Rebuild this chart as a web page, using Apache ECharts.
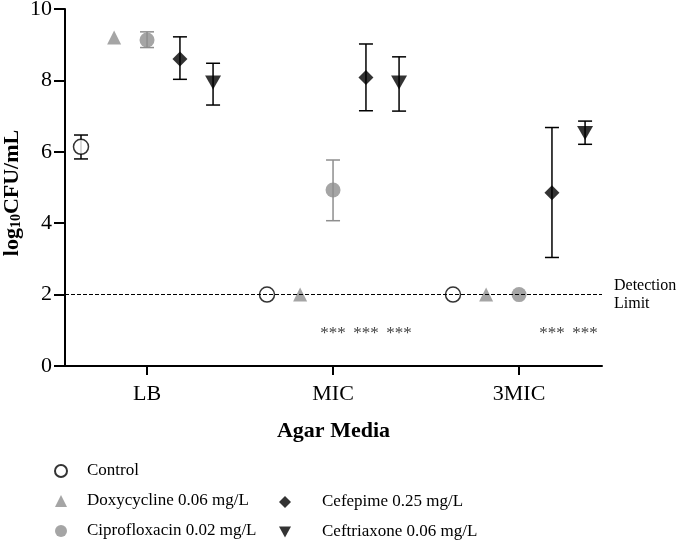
<!DOCTYPE html>
<html>
<head>
<meta charset="utf-8">
<script src="https://cdn.jsdelivr.net/npm/echarts@6/dist/echarts.min.js"></script>
<style>
  html, body { margin: 0; padding: 0; background: #fff; }
  #chart { width: 680px; height: 542px; }
</style>
</head>
<body>
<div id="chart"></div>
<script>
'use strict';

// categories on the x axis
const categories = ['LB', 'MIC', '3MIC'];
const yTicks = [0, 2, 4, 6, 8, 10];
const detectionLimit = 2;

// means and error bar ends, one value per category (null = no bar)
const controlMean = [6.14, 2, 2];
const controlLow = [5.80, null, null];
const controlHigh = [6.47, null, null];

const doxyMean = [9.20, 2, 2];
const doxyLow = [null, null, null];
const doxyHigh = [null, null, null];

const ciproMean = [9.13, 4.93, 2];
const ciproLow = [8.92, 4.07, null];
const ciproHigh = [9.36, 5.77, null];

const cefepimeMean = [8.60, 8.08, 4.85];
const cefepimeLow = [8.03, 7.15, 3.04];
const cefepimeHigh = [9.22, 9.02, 6.68];

const ceftriaxoneMean = [7.94, 7.94, 6.53];
const ceftriaxoneLow = [7.31, 7.14, 6.21];
const ceftriaxoneHigh = [8.48, 8.66, 6.86];

// significance marks per category
const ciproSig = ['', '***', ''];
const cefepimeSig = ['', '***', '***'];
const ceftriaxoneSig = ['', '***', '***'];

const FONT = '"Liberation Serif", "DejaVu Serif", serif';
const GRAY = '#8e8e8e';
const DOWN_TRIANGLE = 'path://M0,0 L10,0 L5,9 Z';

const groups = [
    {
        name: 'Control', mean: controlMean, low: controlLow, high: controlHigh, sig: null,
        offset: -0.355, symbol: 'circle', size: 15, rotate: 0,
        itemStyle: { color: '#fff', borderColor: '#000', borderWidth: 1.5 }, barColor: '#000'
    },
    {
        name: 'Doxycycline 0.06 mg/L', mean: doxyMean, low: doxyLow, high: doxyHigh, sig: null,
        offset: -0.177, symbol: 'triangle', size: 14, rotate: 0,
        itemStyle: { color: GRAY }, barColor: GRAY
    },
    {
        name: 'Ciprofloxacin 0.02 mg/L', mean: ciproMean, low: ciproLow, high: ciproHigh, sig: ciproSig,
        offset: 0, symbol: 'circle', size: 15, rotate: 0,
        itemStyle: { color: GRAY }, barColor: GRAY
    },
    {
        name: 'Cefepime 0.25 mg/L', mean: cefepimeMean, low: cefepimeLow, high: cefepimeHigh, sig: cefepimeSig,
        offset: 0.177, symbol: 'diamond', size: [15, 15], rotate: 0,
        itemStyle: { color: '#000' }, barColor: '#000'
    },
    {
        name: 'Ceftriaxone 0.06 mg/L', mean: ceftriaxoneMean, low: ceftriaxoneLow, high: ceftriaxoneHigh, sig: ceftriaxoneSig,
        offset: 0.355, symbol: DOWN_TRIANGLE, size: [16, 14], rotate: 0,
        itemStyle: { color: '#000' }, barColor: '#000'
    }
];

const series = [];

// error bars (drawn under the markers)
groups.forEach(g => {
    const data = [];
    categories.forEach((c, i) => {
        if (g.low[i] != null) data.push([i + g.offset, g.low[i], g.high[i]]);
    });
    series.push({
        type: 'custom',
        name: g.name + ' err',
        z: 1,
        silent: true,
        data: data,
        renderItem: (params, api) => {
            const lo = api.coord([api.value(0), api.value(1)]);
            const hi = api.coord([api.value(0), api.value(2)]);
            const w = 7;
            const style = { stroke: g.barColor, lineWidth: 1.5 };
            return {
                type: 'group',
                children: [
                    { type: 'line', shape: { x1: lo[0], y1: lo[1], x2: hi[0], y2: hi[1] }, style: style },
                    { type: 'line', shape: { x1: lo[0] - w, y1: lo[1], x2: lo[0] + w, y2: lo[1] }, style: style },
                    { type: 'line', shape: { x1: hi[0] - w, y1: hi[1], x2: hi[0] + w, y2: hi[1] }, style: style }
                ]
            };
        }
    });
});

// markers
groups.forEach((g, gi) => {
    const s = {
        type: 'scatter',
        name: g.name,
        z: 3,
        symbol: g.symbol,
        symbolSize: g.size,
        symbolRotate: g.rotate,
        itemStyle: g.itemStyle,
        data: g.mean.map((v, i) => [i + g.offset, v])
    };
    if (gi === 0) {
        s.markLine = {
            silent: true,
            symbol: 'none',
            lineStyle: { color: '#000', type: [4, 2], width: 1 },
            label: {
                show: true,
                position: 'end',
                formatter: 'Detection\nLimit',
                fontFamily: FONT,
                fontSize: 16,
                lineHeight: 18,
                color: '#000',
                distance: 12,
                padding: [7, 0, 0, 0]
            },
            data: [{ yAxis: detectionLimit }]
        };
    }
    series.push(s);
});

// significance stars
const starData = [];
groups.forEach(g => {
    if (!g.sig) return;
    g.sig.forEach((t, i) => {
        if (t) starData.push([i + g.offset, 0.9, t]);
    });
});
series.push({
    type: 'custom',
    name: 'stars',
    silent: true,
    z: 2,
    data: starData,
    renderItem: (params, api) => {
        const p = api.coord([api.value(0), api.value(1)]);
        return {
            type: 'text',
            x: p[0],
            y: p[1],
            style: {
                text: starData[params.dataIndex][2],
                fill: '#444',
                font: '17px ' + FONT,
                align: 'center',
                verticalAlign: 'middle'
            }
        };
    }
});

const legendText = { fontFamily: FONT, fontSize: 17, color: '#000', lineHeight: 18 };
const legendItem = g => ({ name: g.name, icon: g.symbol });

const option = {
    animation: false,
    backgroundColor: '#fff',
    textStyle: { fontFamily: FONT },
    grid: { left: 65, right: 78, top: 9, bottom: 176, containLabel: false, outerBoundsMode: 'none' },
    // y axis title with a subscript
    graphic: [{
        type: 'text',
        x: 12,
        y: 193,
        rotation: Math.PI / 2,
        style: {
            text: '{b|log}{s|10}{b|CFU/mL}',
            align: 'center',
            verticalAlign: 'middle',
            rich: {
                b: { fontFamily: FONT, fontSize: 22, fontWeight: 'bold', fill: '#000' },
                s: { fontFamily: FONT, fontSize: 14, fontWeight: 'bold', fill: '#000', padding: [9, 0, 0, 0] }
            }
        }
    }],
    legend: [
        {
            data: groups.slice(0, 3).map(legendItem),
            orient: 'vertical',
            left: 49,
            top: 457,
            height: 120,
            itemWidth: 12,
            itemHeight: 12,
            itemGap: 12,
            selectedMode: false,
            textStyle: Object.assign({ padding: [0, 0, 0, 15] }, legendText)
        },
        {
            data: groups.slice(3).map(legendItem),
            orient: 'vertical',
            left: 274,
            top: 488,
            height: 120,
            itemWidth: 12,
            itemHeight: 12,
            itemGap: 12,
            selectedMode: false,
            textStyle: Object.assign({ padding: [0, 0, 0, 26] }, legendText)
        }
    ],
    xAxis: {
        type: 'value',
        min: -0.441,
        max: 2.446,
        name: 'Agar Media',
        nameLocation: 'middle',
        nameGap: 54,
        nameTextStyle: { fontFamily: FONT, fontSize: 22, fontWeight: 'bold', color: '#000' },
        axisLine: { show: true, onZero: false, lineStyle: { color: '#000', width: 2 } },
        axisTick: { show: true, length: 9, lineStyle: { color: '#000', width: 2 }, customValues: [0, 1, 2] },
        axisLabel: {
            customValues: [0, 1, 2],
            formatter: v => categories[Math.round(v)],
            fontFamily: FONT, fontSize: 22, color: '#000', margin: 17
        },
        splitLine: { show: false }
    },
    yAxis: {
        type: 'value',
        min: yTicks[0],
        max: yTicks[yTicks.length - 1],
        interval: 2,
        axisLine: { show: true, onZero: false, lineStyle: { color: '#000', width: 2 } },
        axisTick: { show: true, length: 11, lineStyle: { color: '#000', width: 2 } },
        axisLabel: { fontFamily: FONT, fontSize: 22, color: '#000', margin: 13 },
        splitLine: { show: false }
    },
    series: series
};

const myChart = echarts.init(document.getElementById('chart'));
myChart.setOption(option);
</script>
</body>
</html>
